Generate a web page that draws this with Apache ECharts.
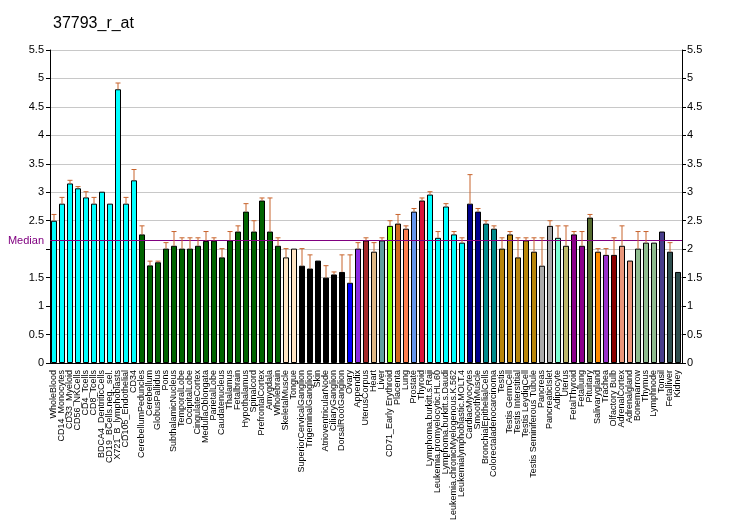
<!DOCTYPE html>
<html>
<head>
<meta charset="utf-8">
<script src="https://cdn.jsdelivr.net/npm/echarts@6/dist/echarts.min.js"></script>
<style>html,body{margin:0;padding:0;background:#fff}#c{width:732px;height:530px}</style>
</head>
<body>
<div id="c"></div>
<script>
const categories = ["WholeBlood","CD14_Monocytes","CD33_Myeloid","CD56_NKCells","CD4_Tcells","CD8_Tcells","BDCA4_DentriticCells","CD19_BCells.neg._sel.","X721_B_lymphoblasts","CD105_Endothelial","CD34","CerebellumPeduncles","Cerebellum","GlobusPallidus","Pons","SubthalamicNucleus","TemporalLobe","OccipitalLobe","CingulateCortex","MedullaOblongata","ParietalLobe","Caudatenucleus","Thalamus","Fetalbrain","Hypothalamus","Spinalcord","PrefrontalCortex","Amygdala","Wholebrain","SkeletalMuscle","Tongue","SuperiorCervicalGanglion","TrigeminalGanglion","Skin","AtrioventricularNode","CiliaryGanglion","DorsalRootGanglion","Ovary","Appendix","UterusCorpus","Heart","Liver","CD71_Early Erythroid","Placenta","Lung","Prostate","Thyroid","Lymphoma.burkitt.s.Raji","Leukemia.promyelocytic.HL.60","Lymphoma.burkitt.s.Daudi","Leukemia.chronicMyelogenous.K.562","Leukemialymphoblastic.MOLT.4","CardiacMyocytes","SmoothMuscle","BronchialEpithelialCells","Colorectaladenocarcinoma","Testis","Testis GermCell","Testis Interstitial","Testis LeydigCell","Testis Seminiferous Tubule","Pancreas","PancreaticIslet","Adipocyte","Uterus","FetalThyroid","Fetallung","Pituitary","Salivarygland","Trachea","Olfactory Bulb","AdrenalCortex","Adrenalgland","Bonemarrow","Thymus","Lymphnode","Tonsil","Fetalliver","Kidney"];

const values = [2.50,2.80,3.155,3.07,2.91,2.80,3.01,2.80,4.81,2.80,3.21,2.26,1.715,1.77,2.01,2.06,2.01,2.01,2.06,2.145,2.15,1.856,2.155,2.31,2.66,2.31,2.855,2.31,2.06,1.856,2.01,1.71,1.66,1.80,1.50,1.556,1.60,1.41,2.01,2.155,1.956,2.155,2.41,2.45,2.36,2.66,2.855,2.96,2.20,2.75,2.26,2.115,2.80,2.66,2.45,2.36,2.01,2.26,1.856,2.155,1.956,1.71,2.41,2.20,2.06,2.26,2.06,2.555,1.956,1.90,1.90,2.06,1.80,2.01,2.115,2.115,2.31,1.956,1.60];

const errorTops = [2.61,2.91,3.21,3.10,3.01,2.91,null,null,4.92,2.91,3.40,2.41,1.79,1.79,2.115,2.31,2.20,2.20,2.20,2.31,2.20,2.01,2.31,2.41,2.80,2.50,2.90,2.90,2.20,2.01,null,2.01,1.90,null,1.71,1.60,1.90,1.90,2.115,2.20,2.115,2.20,2.50,2.61,2.41,2.715,2.90,3.01,2.31,2.80,2.31,2.20,3.31,2.715,2.50,2.41,2.20,2.31,2.20,2.20,2.20,2.20,2.50,2.41,2.41,2.31,2.31,2.61,2.01,2.01,2.20,2.41,null,2.31,2.31,null,null,2.115,null];

const barColors = ["#00FFFF","#00FFFF","#00FFFF","#00FFFF","#00FFFF","#00FFFF","#00FFFF","#00FFFF","#00FFFF","#00FFFF","#00FFFF",
"#006400","#006400","#006400","#006400","#006400","#006400","#006400","#006400","#006400","#006400","#006400","#006400","#006400","#006400","#006400","#006400","#006400","#006400",
"#FFE4C4","#FFE4C4","#000000","#000000","#000000","#000000","#000000","#000000","#0000FF","#8A2BE2","#A52A2A","#DEB887","#5F9EA0","#7FFF00","#D2691E","#FF7F50","#6495ED","#DC143C",
"#00FFFF","#00FFFF","#00FFFF","#00FFFF","#00FFFF","#00008B","#00008B","#008B8B","#008B8B","#B8860B","#B8860B","#B8860B","#B8860B","#B8860B","#A9A9A9","#A9A9A9","#7FFFD4","#BDB76B","#8B008B","#8B008B","#556B2F","#FF8C00","#9932CC","#8B0000","#E9967A","#E9967A","#8FBC8F","#8FBC8F","#8FBC8F","#483D8B","#2F4F4F","#2F4F4F"];

const medianValue = 2.145;
const yTicks = {min: 0, max: 5.5, interval: 0.5};

const chart = echarts.init(document.getElementById('c'));
const font = 'Liberation Sans, Arial, sans-serif';
const errData = [];
values.forEach((v, i) => { if (errorTops[i] != null) errData.push([i, v, errorTops[i]]); });

chart.setOption({
  animation: false,
  backgroundColor: '#fff',
  title: {text: '37793_r_at', left: 48, top: 11, textStyle: {fontFamily: font, fontSize: 16, fontWeight: 'normal', color: '#000'}},
  grid: {left: 50, right: 50, top: 50, bottom: 167},
  xAxis: {
    type: 'category', data: categories,
    axisLine: {lineStyle: {color: '#000'}},
    axisTick: {alignWithLabel: true, length: 5, lineStyle: {color: '#000'}},
    axisLabel: {rotate: 90, interval: 0, fontSize: 9, fontFamily: font, color: '#000', margin: 7}
  },
  yAxis: [
    {type: 'value', min: yTicks.min, max: yTicks.max, interval: yTicks.interval, position: 'left',
     axisLine: {show: true, lineStyle: {color: '#000'}},
     axisTick: {show: true, length: 4, lineStyle: {color: '#000'}},
     axisLabel: {fontSize: 11, fontFamily: font, color: '#000', margin: 6, formatter: v => v === 2 ? '' : String(v)},
     splitLine: {show: true, lineStyle: {color: '#C8C8C8'}}},
    {type: 'value', min: yTicks.min, max: yTicks.max, interval: yTicks.interval, position: 'right',
     axisLine: {show: true, lineStyle: {color: '#000'}},
     axisTick: {show: true, length: 4, lineStyle: {color: '#000'}},
     axisLabel: {fontSize: 11, fontFamily: font, color: '#000', margin: 5, formatter: v => String(v)},
     splitLine: {show: false}}
  ],
  series: [
    {type: 'bar', barWidth: 6,
     data: values.map((v, i) => ({value: v, itemStyle: {color: barColors[i]}})),
     itemStyle: {borderColor: '#000', borderWidth: 1},
     markLine: {silent: true, symbol: 'none',
       lineStyle: {color: '#800080', width: 1, type: 'solid'},
       label: {show: true, position: 'start', formatter: 'Median', color: '#800080', fontSize: 11, fontFamily: font, distance: 6},
       data: [{yAxis: medianValue}]}
    },
    {type: 'custom', z: 5,
     data: errData,
     renderItem: (params, api) => {
       const x = api.value(0);
       const p0 = api.coord([x, api.value(1)]);
       const p1 = api.coord([x, api.value(2)]);
       const style = {stroke: '#C8642D', lineWidth: 1};
       return {type: 'group', children: [
         {type: 'line', shape: {x1: p0[0], y1: p0[1], x2: p1[0], y2: p1[1]}, style},
         {type: 'line', shape: {x1: p1[0] - 2.5, y1: p1[1], x2: p1[0] + 2.5, y2: p1[1]}, style}
       ]};
     }
    }
  ]
});
</script>
</body>
</html>
